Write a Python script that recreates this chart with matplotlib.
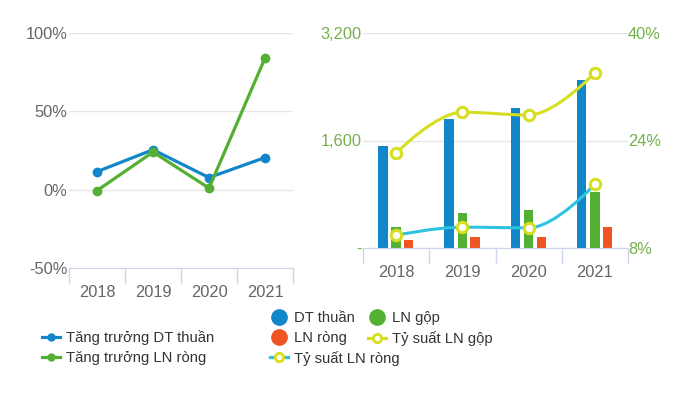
import matplotlib
matplotlib.use("Agg")
import matplotlib.pyplot as plt
from matplotlib.path import Path
from matplotlib.patches import PathPatch
from matplotlib.lines import Line2D
import numpy as np

plt.rcParams['font.family'] = ['Liberation Sans', 'DejaVu Sans']

# data
years = ["2018", "2019", "2020", "2021"]
tang_truong_dt = [11.5, 25.5, 7.7, 20.5]
tang_truong_ln = [-0.6, 24.0, 1.0, 84.0]

dt_thuan = [1525, 1920, 2080, 2500]
ln_gop = [312, 516, 561, 829]
ln_rong = [119, 164, 164, 312]
ts_ln_gop = [22.1, 28.2, 27.8, 34.1]
ts_ln_rong = [9.9, 11.1, 11.0, 17.5]

c_blue = "#1186c8"
c_green = "#53b032"
c_orange = "#ee5522"
c_yellow = "#d6df1f"
c_cyan = "#2ec3e0"
c_tick = "#666666"
c_lab = "#74b04c"
c_grid = "#e6e6e6"
c_axis = "#ccd6eb"
fs = 11.8
leg_fs = 10.6


def spline_path(xs, ys, smoothing=1.5):
    # highcharts-style spline
    denom = smoothing + 1
    n = len(xs)
    lc = [None] * n
    rc = [None] * n
    for i in range(1, n - 1):
        x, y = xs[i], ys[i]
        lx = (smoothing * x + xs[i - 1]) / denom
        ly = (smoothing * y + ys[i - 1]) / denom
        rx = (smoothing * x + xs[i + 1]) / denom
        ry = (smoothing * y + ys[i + 1]) / denom
        corr = (ry - ly) * (rx - x) / (rx - lx) + y - ry
        ly += corr
        ry += corr
        if ly > max(ys[i - 1], y):
            ly = max(ys[i - 1], y); ry = 2 * y - ly
        elif ly < min(ys[i - 1], y):
            ly = min(ys[i - 1], y); ry = 2 * y - ly
        if ry > max(ys[i + 1], y):
            ry = max(ys[i + 1], y); ly = 2 * y - ry
        elif ry < min(ys[i + 1], y):
            ry = min(ys[i + 1], y); ly = 2 * y - ry
        lc[i] = (lx, ly)
        rc[i] = (rx, ry)
    verts = [(xs[0], ys[0])]
    codes = [Path.MOVETO]
    for i in range(1, n):
        p0 = rc[i - 1] if rc[i - 1] else (xs[i - 1], ys[i - 1])
        p1 = lc[i] if lc[i] else (xs[i], ys[i])
        verts += [p0, p1, (xs[i], ys[i])]
        codes += [Path.CURVE4] * 3
    return Path(verts, codes)


fig = plt.figure(figsize=(6.78, 3.97), dpi=100)

# left chart
ax1 = fig.add_axes([69 / 678, 1 - 268 / 397, 224 / 678, 235 / 397])
x = np.arange(len(years))
ax1.plot(x, tang_truong_dt, color=c_blue, lw=2.3, marker="o", ms=6, label="Tăng trưởng DT thuần", zorder=3)
ax1.plot(x, tang_truong_ln, color=c_green, lw=2.3, marker="o", ms=6, label="Tăng trưởng LN ròng", zorder=3)
ax1.set_xlim(-0.5, 3.5)
ax1.set_ylim(-50, 100)
ax1.set_yticks([-50, 0, 50, 100])
ax1.set_yticklabels(["-50%", "0%", "50%", "100%"])
ax1.set_xticks(x)
ax1.set_xticklabels(years)
ax1.set_xticks([-0.5, 0.5, 1.5, 2.5, 3.5], minor=True)

# right chart
ax2 = fig.add_axes([363 / 678, 1 - 248 / 397, 265 / 678, 215 / 397])
w = 0.14
ax2.bar(x - 0.2, dt_thuan, w, color=c_blue, label="DT thuần", zorder=2)
ax2.bar(x, ln_gop, w, color=c_green, label="LN gộp", zorder=2)
ax2.bar(x + 0.19, ln_rong, w, color=c_orange, label="LN ròng", zorder=2)
ax2.set_xlim(-0.5, 3.5)
ax2.set_ylim(0, 3200)
ax2.set_yticks([0, 1600, 3200])
ax2.set_yticklabels(["-", "1,600", "3,200"])
ax2.set_xticks(x)
ax2.set_xticklabels(years)
ax2.set_xticks([-0.5, 0.5, 1.5, 2.5, 3.5], minor=True)

ax3 = ax2.twinx()
ax3.set_ylim(8, 40)
ax3.set_yticks([8, 24, 40])
ax3.set_yticklabels(["8%", "24%", "40%"])
for vals, col in [(ts_ln_gop, c_yellow), (ts_ln_rong, c_cyan)]:
    ax3.add_patch(PathPatch(spline_path(list(x), vals), fill=False, ec=col, lw=2.2, zorder=3))
    ax3.plot(x, vals, ls="none", marker="o", ms=7.5, mfc="white", mec=c_yellow, mew=2.2, zorder=4)

for ax in (ax1, ax2, ax3):
    for s in ax.spines.values():
        s.set_visible(False)
for ax in (ax1, ax2):
    ax.spines["bottom"].set_visible(True)
    ax.spines["bottom"].set_color(c_axis)
    ax.grid(axis="y", color=c_grid, lw=1, zorder=0)
    ax.set_axisbelow(True)
    ax.tick_params(axis="x", which="major", length=0, labelsize=fs, labelcolor=c_tick, pad=12.5)
    ax.tick_params(axis="x", which="minor", length=11, color=c_axis, width=1)
    ax.tick_params(axis="y", length=0, labelsize=fs, pad=1)
ax1.tick_params(axis="y", labelcolor=c_tick)
ax2.tick_params(axis="y", labelcolor=c_lab)
ax3.tick_params(axis="y", length=0, labelsize=fs, labelcolor=c_lab, pad=0)

# legends
leg_kw = dict(loc="upper left", frameon=False, fontsize=leg_fs, handlelength=1.25,
              handletextpad=0.4, labelspacing=0.4, borderpad=0, borderaxespad=0,
              labelcolor="#333333")
h_left = [Line2D([], [], color=c_blue, lw=2.3, marker="o", ms=5),
          Line2D([], [], color=c_green, lw=2.3, marker="o", ms=5)]
fig.legend(h_left, ["Tăng trưởng DT thuần", "Tăng trưởng LN ròng"],
           bbox_to_anchor=(42 / 678, 1 - 330 / 397), **leg_kw)

h_a = [Line2D([], [], ls="none", marker="o", ms=11, color=c_blue),
       Line2D([], [], ls="none", marker="o", ms=11, color=c_orange),
       Line2D([], [], color=c_cyan, lw=2.3, marker="o", ms=6, mfc="white", mec=c_yellow, mew=2)]
fig.legend(h_a, ["DT thuần", "LN ròng", "Tỷ suất LN ròng"],
           bbox_to_anchor=(270 / 678, 1 - 311 / 397), **leg_kw)
h_b = [Line2D([], [], ls="none", marker="o", ms=11, color=c_green),
       Line2D([], [], color=c_yellow, lw=2.3, marker="o", ms=6, mfc="white", mec=c_yellow, mew=2)]
fig.legend(h_b, ["LN gộp", "Tỷ suất LN gộp"],
           bbox_to_anchor=(368 / 678, 1 - 311 / 397), **leg_kw)

fig.savefig("out.png", dpi=100)
